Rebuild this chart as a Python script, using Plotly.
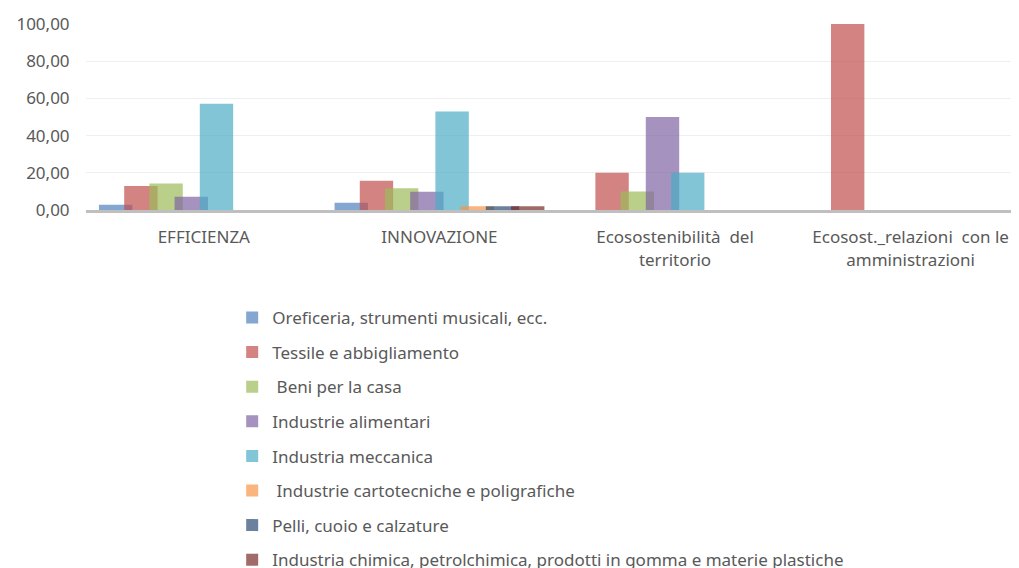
import plotly.graph_objects as go

categories = [
    "EFFICIENZA",
    "INNOVAZIONE",
    "Ecosostenibilità  del<br>territorio",
    "Ecosost._relazioni  con le<br>amministrazioni",
]

series_names = [
    "Oreficeria, strumenti musicali, ecc.",
    "Tessile e abbigliamento",
    " Beni per la casa",
    "Industrie alimentari",
    "Industria meccanica",
    " Industrie cartotecniche e poligrafiche",
    "Pelli, cuoio e calzature",
    "Industria chimica, petrolchimica, prodotti in gomma e materie plastiche",
]

oreficeria = [2.86, 3.92, 0, 0]
tessile = [12.86, 15.69, 20.0, 100.0]
beni_casa = [14.29, 11.76, 10.0, 0]
alimentari = [7.14, 9.80, 50.0, 0]
meccanica = [57.14, 52.94, 20.0, 0]
cartotecniche = [0, 1.96, 0, 0]
pelli = [0, 1.96, 0, 0]
chimica = [0, 1.96, 0, 0]

values = [oreficeria, tessile, beni_casa, alimentari, meccanica,
          cartotecniche, pelli, chimica]

# Office palette, drawn at 70% alpha so overlapping bars darken
colors = ["rgba(79,129,189,0.7)", "rgba(192,80,77,0.7)", "rgba(155,187,89,0.7)",
          "rgba(128,100,162,0.7)", "rgba(75,172,198,0.7)", "rgba(247,150,70,0.7)",
          "rgba(44,77,117,0.7)", "rgba(119,44,42,0.7)"]

bar_width = 0.1417
step = 0.107
start = -0.445

fig = go.Figure()
for i, (name, vals) in enumerate(zip(series_names, values)):
    fig.add_trace(
        go.Bar(
            x=categories,
            y=vals,
            name=name,
            width=bar_width,
            offset=start + i * step,
            marker=dict(color=colors[i], line=dict(width=0)),
            legendgroup=str(i),
        )
    )

fig.update_layout(
    barmode="overlay",
    width=1019,
    height=568,
    margin=dict(l=78, r=8, t=16, b=366, autoexpand=False),
    plot_bgcolor="white",
    paper_bgcolor="white",
    separators=",.",
    font=dict(family="Noto Sans", size=16, color="#595959"),
    showlegend=True,
    legend=dict(
        xref="container",
        yref="container",
        x=0.22,
        y=0.486,
        xanchor="left",
        yanchor="top",
        font=dict(size=17, color="#595959"),
        tracegroupgap=9.5,
        itemwidth=30,
    ),
)

fig.update_yaxes(
    range=[0, 100],
    dtick=20,
    tickformat=".2f",
    showgrid=True,
    gridcolor="#efefef",
    gridwidth=1,
    zeroline=False,
    showline=False,
    ticks="outside",
    ticklen=12,
    tickcolor="white",
    tickfont=dict(size=17, color="#595959"),
)

fig.update_xaxes(
    range=[-0.5, 3.46],
    showline=True,
    linecolor="#bfbfbf",
    linewidth=3,
    ticks="outside",
    ticklen=10,
    tickcolor="rgba(0,0,0,0)",
    tickangle=0,
    tickfont=dict(size=17, color="#595959"),
)

fig.write_html("out.html")
